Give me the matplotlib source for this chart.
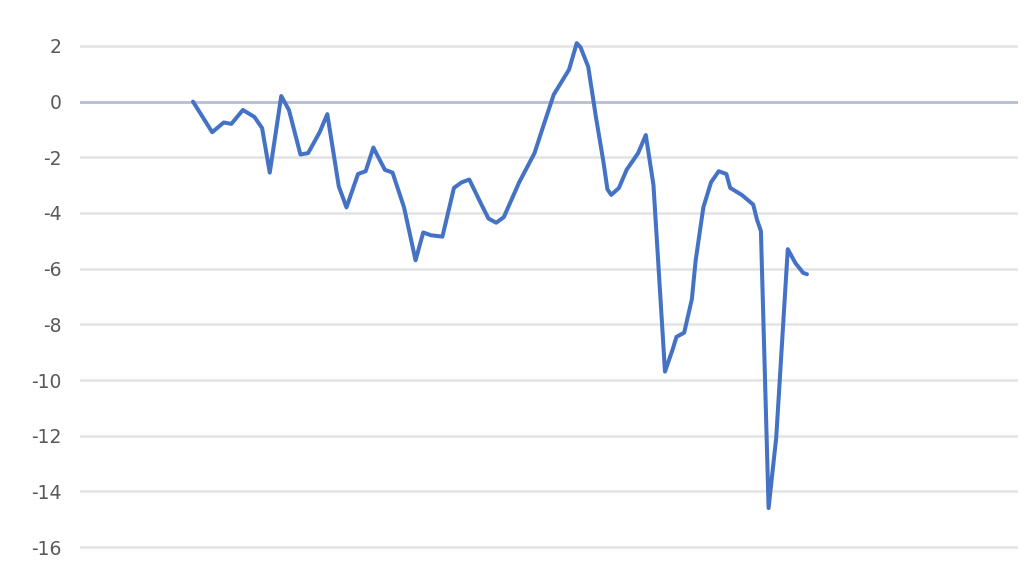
import matplotlib
matplotlib.use("Agg")
import matplotlib.pyplot as plt

# period index (weeks) and cumulative value
periods = [0, 5, 8, 10, 13, 16, 18, 20, 23, 25, 28, 30, 33, 35, 38, 40, 43, 45,
           47, 50, 52, 55, 58, 60, 62, 65, 68, 70, 72, 75, 77, 79, 81, 85, 89,
           91, 94, 96, 98, 100, 101, 103, 105, 107, 108, 109, 111, 113, 116,
           118, 120, 123, 125, 126, 128, 130, 131, 133, 135, 137, 139, 140,
           143, 146, 147, 148, 150, 152, 155, 157, 159, 160]
values = [0.0, -1.1, -0.75, -0.8, -0.3, -0.55, -0.95, -2.55, 0.2, -0.3, -1.9,
          -1.85, -1.1, -0.45, -3.05, -3.8, -2.6, -2.5, -1.65, -2.45, -2.55,
          -3.8, -5.7, -4.7, -4.8, -4.85, -3.1, -2.9, -2.8, -3.65, -4.2, -4.35,
          -4.15, -2.9, -1.85, -1.0, 0.25, 0.7, 1.15, 2.1, 1.95, 1.25, -0.55,
          -2.2, -3.15, -3.35, -3.1, -2.45, -1.85, -1.2, -3.0, -9.7, -8.9,
          -8.45, -8.3, -7.1, -5.7, -3.8, -2.9, -2.5, -2.6, -3.1, -3.35, -3.7,
          -4.25, -4.65, -14.6, -12.05, -5.3, -5.8, -6.15, -6.2]

y_ticks = [2, 0, -2, -4, -6, -8, -10, -12, -14, -16]

fig = plt.figure(figsize=(10.24, 5.76), dpi=100)
ax = fig.add_axes([80 / 1024, 0, 938 / 1024, 1])

for t in y_ticks:
    if t == 0:
        ax.axhline(t, color="#b7bdd6", lw=2.0, zorder=1)
    else:
        ax.axhline(t, color="#e3e3e3", lw=1.8, zorder=1)

ax.plot(periods, values, color="#4472C4", lw=2.9, solid_joinstyle="round",
        solid_capstyle="round", zorder=3)

ax.set_yticks(y_ticks)
ax.set_yticklabels([str(t) for t in y_ticks])
ax.set_xticks([])
ax.set_xlim(-29.45, 215)
ax.set_ylim(-17.04, 3.65)
ax.tick_params(axis="y", length=0, pad=13, labelsize=13.5, labelcolor="#595959")
for s in ax.spines.values():
    s.set_visible(False)

fig.savefig("out.png", dpi=100)
